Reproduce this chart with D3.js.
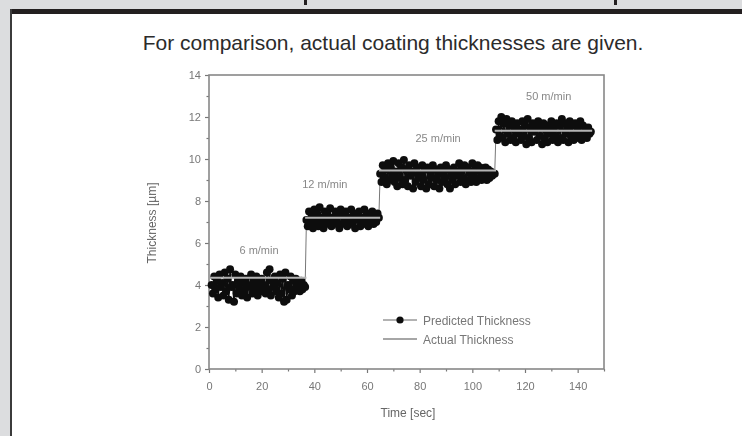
<!DOCTYPE html>
<html>
<head>
<meta charset="utf-8">
<script src="https://cdn.jsdelivr.net/npm/d3@7"></script>
<style>
  body { margin: 0; background: #dcdddf; }
  svg { display: block; }
</style>
</head>
<body>
<svg id="chart" width="742" height="436"></svg>
<script>
    // segments of the run: start time, sample step, actual thickness, speed label
    const segStarts = [1, 37, 65, 109];
    const segEnds = [37, 65, 109, 145.5];
    const sampleStep = 0.5;
    const actualThickness = [4.35, 7.2, 9.45, 11.35];
    const speedLabels = ["6 m/min", "12 m/min", "25 m/min", "50 m/min"];
    const labelPos = [[19, 5.5], [44, 8.6], [87, 10.8], [129, 12.8]];

    // predicted thickness, one array per segment
    const pred6 = [4.0, 3.6, 4.4, 3.8, 4.2, 3.4, 4.5, 3.9, 4.1, 3.5, 4.6, 3.7, 4.3, 3.3, 4.75, 3.9, 4.0, 3.2, 4.5, 3.6,
        4.2, 3.8, 4.4, 3.5, 4.1, 3.7, 4.3, 3.4, 4.0, 3.9, 4.5, 3.6, 4.2, 3.8, 4.4, 3.5, 4.1, 3.7, 4.3, 3.9,
        4.0, 3.6, 4.6, 3.8, 4.75, 3.5, 4.2, 3.9, 4.4, 3.7, 4.1, 3.4, 4.5, 3.6, 4.3, 3.2, 4.6, 3.3, 4.0, 3.8,
        4.4, 3.5, 4.2, 3.7, 4.3, 3.9, 4.1, 3.7, 4.2, 3.8, 4.0, 3.9];
    const pred12 = [7.1, 6.8, 7.5, 6.9, 7.3, 6.7, 7.6, 7.0, 7.4, 6.8, 7.7, 7.2, 7.0, 6.7, 7.5, 6.9, 7.3, 7.1, 7.65, 6.8,
        7.2, 6.9, 7.5, 7.0, 7.4, 6.7, 7.6, 6.9, 7.3, 7.1, 7.5, 6.8, 7.2, 7.0, 7.6, 6.9, 7.4, 6.7, 7.3, 7.1,
        7.5, 6.8, 7.2, 6.9, 7.6, 7.0, 7.4, 6.8, 7.3, 7.1, 7.5, 6.9, 7.2, 7.0, 7.4, 7.2];
    const pred25 = [9.3, 8.9, 9.7, 9.1, 9.5, 8.8, 9.8, 9.0, 9.6, 9.2, 9.9, 8.9, 9.4, 8.7, 9.8, 9.1, 9.6, 8.8, 9.95, 9.0,
        9.5, 8.7, 9.7, 9.2, 9.4, 8.6, 9.8, 8.9, 9.6, 9.1, 9.3, 8.7, 9.7, 9.0, 9.5, 8.6, 9.6, 8.8, 9.4, 9.1,
        9.7, 8.7, 9.5, 9.0, 9.3, 8.6, 9.6, 8.9, 9.4, 9.1, 9.7, 8.8, 9.5, 8.6, 9.3, 9.0, 9.6, 8.8, 9.4, 9.2,
        9.8, 8.9, 9.5, 9.1, 9.7, 8.8, 9.6, 9.0, 9.4, 8.9, 9.8, 9.2, 9.5, 8.9, 9.7, 9.1, 9.6, 9.0, 9.4, 9.2,
        9.6, 9.0, 9.5, 9.1, 9.4, 9.2, 9.3, 9.3];
    const pred50 = [11.4, 10.9, 11.8, 11.1, 12.0, 11.0, 11.7, 10.8, 11.9, 11.2, 11.6, 10.9, 11.8, 11.0, 11.5, 10.8, 11.7, 11.2, 11.4, 10.9,
        11.8, 11.1, 11.6, 10.7, 11.9, 11.0, 11.5, 10.8, 11.7, 11.3, 11.6, 10.9, 11.8, 11.1, 11.5, 10.7, 11.7, 11.0, 11.4, 10.8,
        11.6, 11.2, 11.8, 10.9, 11.5, 11.1, 11.7, 10.8, 11.6, 11.0, 11.9, 10.9, 11.7, 11.2, 11.5, 10.8, 11.8, 11.1, 11.6, 10.9,
        11.7, 11.0, 11.5, 11.2, 11.8, 10.9, 11.6, 11.1, 11.4, 11.0, 11.5, 11.2, 11.3];
    const predicted = [pred6, pred12, pred25, pred50];

    const xTicks = [0, 20, 40, 60, 80, 100, 120, 140];
    const xMinor = [10, 30, 50, 70, 90, 110, 130, 150];
    const yTicks = [0, 2, 4, 6, 8, 10, 12, 14];
    const yMinor = [1, 3, 5, 7, 9, 11, 13];

    const svg = d3.select("#chart");

    // page frame around the figure
    svg.append("rect").attr("x", 10).attr("y", 14).attr("width", 732).attr("height", 422).attr("fill", "#fff");
    svg.append("rect").attr("x", 10).attr("y", 9).attr("width", 732).attr("height", 5).attr("fill", "#231f20");
    svg.append("rect").attr("x", 10).attr("y", 9).attr("width", 2).attr("height", 427).attr("fill", "#3b3b3b");
    // descenders of the cut heading above
    svg.append("rect").attr("x", 304).attr("y", 0).attr("width", 3).attr("height", 5).attr("fill", "#231f20");
    svg.append("rect").attr("x", 614).attr("y", 0).attr("width", 3).attr("height", 5).attr("fill", "#231f20");

    svg.append("text")
        .attr("x", 393).attr("y", 50)
        .attr("text-anchor", "middle")
        .style("font-family", "Liberation Sans, Arial, sans-serif")
        .style("font-size", "21px")
        .attr("fill", "#2b2b2b")
        .text("For comparison, actual coating thicknesses are given.");

    // chart
    const defs = svg.append("defs");
    defs.append("filter").attr("id", "soft")
        .append("feGaussianBlur").attr("stdDeviation", 0.45);

    const g = svg.append("g").attr("filter", "url(#soft)");

    const x = d3.scaleLinear().domain([0, 150]).range([209, 604]);
    const y = d3.scaleLinear().domain([0, 14]).range([369, 75]);

    const font = "Liberation Sans, Arial, sans-serif";

    g.append("g").attr("transform", "translate(0," + y(0) + ")")
        .call(d3.axisBottom(x).tickValues(xTicks).tickSize(4).tickPadding(9));
    g.append("g").attr("transform", "translate(0," + y(0) + ")")
        .call(d3.axisBottom(x).tickValues(xMinor).tickSize(2.5).tickFormat(""));
    g.append("g").attr("transform", "translate(" + x(0) + ",0)")
        .call(d3.axisLeft(y).tickValues(yTicks).tickSize(4).tickPadding(4));
    g.append("g").attr("transform", "translate(" + x(0) + ",0)")
        .call(d3.axisLeft(y).tickValues(yMinor).tickSize(2.5).tickFormat(""));

    g.selectAll(".domain").remove();
    g.selectAll(".tick line").attr("stroke", "#777").attr("stroke-width", 1.2);
    g.selectAll(".tick text").attr("fill", "#777").style("font-family", font).style("font-size", "11px");

    // plot frame
    g.append("rect")
        .attr("x", x(0)).attr("y", y(14))
        .attr("width", x(150) - x(0)).attr("height", y(0) - y(14))
        .attr("fill", "none").attr("stroke", "#888").attr("stroke-width", 1.6);

    // predicted points
    const segPoints = predicted.map(function(vals, s) {
        return vals.map(function(v, i) { return {t: segStarts[s] + i * sampleStep, v: v}; });
    });

    const line = d3.line().x(d => x(d.t)).y(d => y(d.v));

    // thin grey joins where the speed steps up
    const joins = segPoints.slice(1).map((seg, i) => [segPoints[i][segPoints[i].length - 1], seg[0]]);
    g.append("g").selectAll("path")
        .data(joins)
        .join("path")
        .attr("d", line)
        .attr("fill", "none").attr("stroke", "#777").attr("stroke-width", 1);

    g.append("g").selectAll("path")
        .data(segPoints)
        .join("path")
        .attr("d", line)
        .attr("fill", "none").attr("stroke", "#111").attr("stroke-width", 1.5);

    g.append("g").selectAll("circle")
        .data(segPoints.flat())
        .join("circle")
        .attr("cx", d => x(d.t)).attr("cy", d => y(d.v))
        .attr("r", 4)
        .attr("fill", "#111");

    // actual thickness
    g.append("g").selectAll("line")
        .data(actualThickness)
        .join("line")
        .attr("x1", (d, i) => x(segStarts[i] - 0.5))
        .attr("x2", (d, i) => x(segEnds[i]))
        .attr("y1", d => y(d)).attr("y2", d => y(d))
        .attr("stroke", "#b4b4b4").attr("stroke-width", 2);

    // speed labels
    g.append("g").selectAll("text")
        .data(speedLabels)
        .join("text")
        .attr("x", (d, i) => x(labelPos[i][0]))
        .attr("y", (d, i) => y(labelPos[i][1]))
        .attr("text-anchor", "middle")
        .attr("fill", "#888")
        .style("font-family", font).style("font-size", "11px")
        .text(d => d);

    // axis titles
    g.append("text")
        .attr("transform", "translate(156,223) rotate(-90)")
        .attr("text-anchor", "middle")
        .attr("fill", "#666")
        .style("font-family", font).style("font-size", "12px")
        .text("Thickness [µm]");
    g.append("text")
        .attr("x", 408).attr("y", 417)
        .attr("text-anchor", "middle")
        .attr("fill", "#666")
        .style("font-family", font).style("font-size", "12px")
        .text("Time [sec]");

    // legend
    const legend = g.append("g").attr("transform", "translate(383,320)");
    legend.append("line").attr("x1", 0).attr("x2", 34).attr("y1", 0).attr("y2", 0)
        .attr("stroke", "#666").attr("stroke-width", 1);
    legend.append("circle").attr("cx", 17).attr("cy", 0).attr("r", 3.6).attr("fill", "#111");
    legend.append("text").attr("x", 40).attr("y", 4.5)
        .attr("fill", "#777").style("font-family", font).style("font-size", "12px")
        .text("Predicted Thickness");
    legend.append("line").attr("x1", 0).attr("x2", 34).attr("y1", 19).attr("y2", 19)
        .attr("stroke", "#888").attr("stroke-width", 1.6);
    legend.append("text").attr("x", 40).attr("y", 23.5)
        .attr("fill", "#777").style("font-family", font).style("font-size", "12px")
        .text("Actual Thickness");
</script>
</body>
</html>
